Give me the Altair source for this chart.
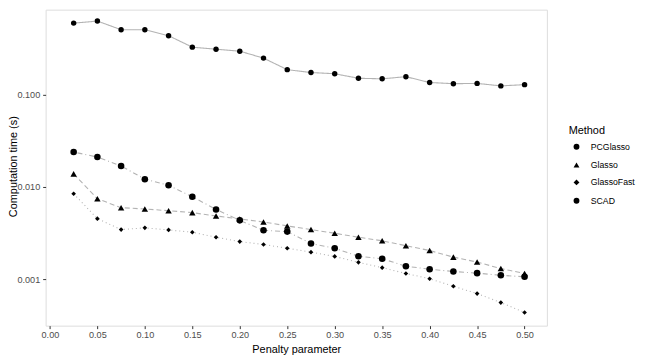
import altair as alt
import pandas as pd

penalty = [0.025, 0.05, 0.075, 0.10, 0.125, 0.15, 0.175, 0.20, 0.225, 0.25,
           0.275, 0.30, 0.325, 0.35, 0.375, 0.40, 0.425, 0.45, 0.475, 0.50]

pcglasso = [0.594, 0.625, 0.504, 0.504, 0.434, 0.326, 0.310, 0.295, 0.248, 0.186,
            0.173, 0.168, 0.150, 0.148, 0.156, 0.135, 0.131, 0.132, 0.124, 0.128]
glasso = [0.0138, 0.00743, 0.00594, 0.00575, 0.00551, 0.00525, 0.00483, 0.00448, 0.00416, 0.00377,
          0.00344, 0.00314, 0.00284, 0.00260, 0.00230, 0.00204, 0.00173, 0.00153, 0.00130, 0.00115]
glassofast = [0.00841, 0.00452, 0.00344, 0.00359, 0.00341, 0.00322, 0.00284, 0.00255, 0.00237, 0.00216,
              0.00196, 0.00176, 0.00152, 0.00133, 0.00115, 0.00101, 0.000836, 0.000697, 0.000557, 0.000435]
scad = [0.0238, 0.0210, 0.0168, 0.0121, 0.0104, 0.0078, 0.00569, 0.00433, 0.00338, 0.00327,
        0.00243, 0.00216, 0.00177, 0.00166, 0.00138, 0.00128, 0.00121, 0.00116, 0.00110, 0.00106]

methods = ["PCGlasso", "Glasso", "GlassoFast", "SCAD"]
shapes = ["circle", "triangle-up", "diamond", "circle"]
sizes = {"PCGlasso": 30, "Glasso": 42, "GlassoFast": 22, "SCAD": 44}
dashes = {"PCGlasso": "[1, 0]", "Glasso": "[5, 3]", "GlassoFast": "[1, 3]", "SCAD": "[1, 3, 5, 3]"}

rows = []
for m, vals in zip(methods, [pcglasso, glasso, glassofast, scad]):
    for p, v in zip(penalty, vals):
        rows.append({"Penalty": p, "Time": v, "Method": m})
df = pd.DataFrame(rows)

size_expr = " : ".join(f"datum.Method == '{k}' ? {v}" for k, v in sizes.items()) + " : 30"
dash_expr = " : ".join(f"datum.Method == '{k}' ? {v}" for k, v in dashes.items()) + " : [1, 0]"

FONT = "Liberation Sans"

x = alt.X("Penalty:Q", title="Penalty parameter",
          scale=alt.Scale(domain=[-0.0045, 0.5235], nice=False, zero=False),
          axis=alt.Axis(values=[0, 0.05, 0.1, 0.15, 0.2, 0.25, 0.3, 0.35, 0.4, 0.45, 0.5],
                        format=".2f", grid=False, domain=False, tickColor="#333333",
                        tickSize=3, labelColor="#4d4d4d", labelFontSize=9.2,
                        labelPadding=2, titleFontSize=11, titleFontWeight="normal",
                        titleColor="black", titlePadding=4, labelFont=FONT, titleFont=FONT))
y = alt.Y("Time:Q", title="Computation time (s)",
          scale=alt.Scale(type="log", domain=[0.000313, 0.831], nice=False),
          axis=alt.Axis(values=[0.001, 0.01, 0.1], format=".3f", grid=False, domain=False,
                        tickColor="#333333", tickSize=3, labelColor="#4d4d4d",
                        labelFontSize=9.2, labelPadding=3, titleFontSize=11,
                        titleFontWeight="normal", titleColor="black",
                        titleX=-32, titleY=158, titleAngle=270, titleAlign="center",
                        titleBaseline="middle", labelFont=FONT, titleFont=FONT))

base = alt.Chart(df).transform_calculate(sz=size_expr, dash=dash_expr)

lines = base.mark_line(color="#b3b3b3", strokeWidth=1.1).encode(
    x=x, y=y,
    detail="Method:N",
    strokeDash=alt.StrokeDash("dash:N", scale=None),
)

points = base.mark_point(filled=True, color="black", opacity=1).encode(
    x=x, y=y,
    shape=alt.Shape("Method:N", scale=alt.Scale(domain=methods, range=shapes),
                    legend=alt.Legend(title="Method", orient="none", legendX=528, legendY=117,
                                      titleFontSize=11, titleFontWeight="normal",
                                      titleFont=FONT, labelFont=FONT, labelFontSize=8.8,
                                      titleColor="black", labelLimit=200,
                                      labelColor="black", symbolFillColor="black",
                                      symbolStrokeColor="black", symbolSize=35,
                                      rowPadding=5.5, titlePadding=6, symbolOffset=3.5,
                                      labelOffset=10)),
    size=alt.Size("sz:Q", scale=None),
)

chart = alt.layer(lines, points).properties(
    width=506, height=319,
    autosize=alt.AutoSizeParams(type="none"),
    padding={"left": 38, "top": 0, "right": 94, "bottom": 33},
).configure_view(stroke="#b3b3b3", strokeWidth=1).configure(background="white")

chart.save("out.html", embed_options={"renderer": "svg", "actions": False})
